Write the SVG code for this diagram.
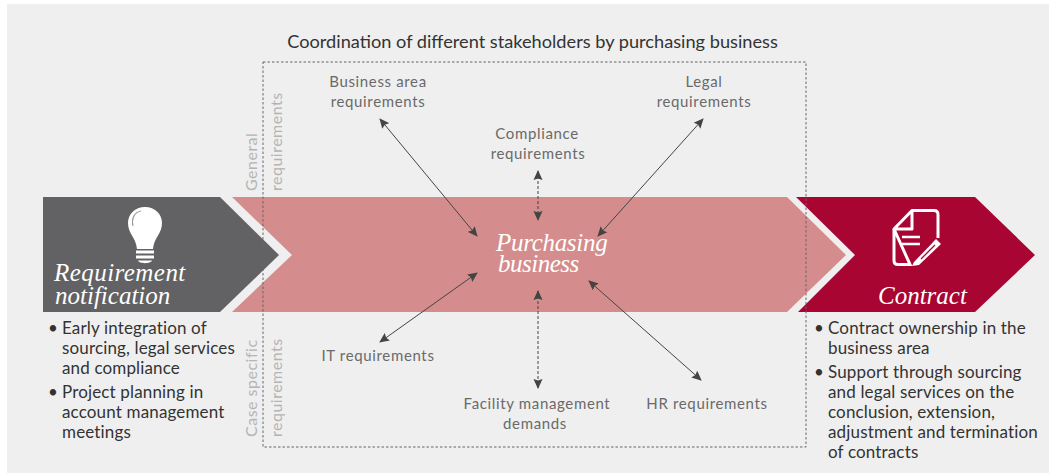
<svg xmlns="http://www.w3.org/2000/svg" width="1049" height="473" viewBox="0 0 1049 473">
<style>
.t{font-family:"Lato","Liberation Sans",sans-serif}
.lab{font-size:15px;fill:#6a6a6a;letter-spacing:.65px;text-anchor:middle}
.side{font-size:16px;fill:#b4b4b4;letter-spacing:.5px}
.body{font-size:17px;fill:#333;letter-spacing:.15px}
.it{font-family:"Liberation Serif",serif;font-style:italic;fill:#fff;font-size:25px}
.c{stroke:#444;stroke-width:1;fill:none;marker-start:url(#a);marker-end:url(#a)}
.d{stroke-dasharray:3 2}
</style>
<defs><marker id="a" viewBox="0 0 10 10" refX="9" refY="5" markerWidth="10" markerHeight="10" orient="auto-start-reverse" markerUnits="userSpaceOnUse"><path d="M0 .5L10 5L0 9.500L1.500 5Z" fill="#444"/></marker></defs>
<rect width="1049" height="473" fill="#fff"/>
<rect x="7" y="4" width="1042" height="469" fill="#efefef"/>
<g id="purchasing-band"><path d="M232 197H787L846 255L787 312H232L292 255Z" fill="#d58c8c"/></g>
<g id="requirement"><path d="M43 197H220L279 255L220 312H43Z" fill="#626264"/>
<path d="M145 207c-10 0-17 7-17 16 0 11 8 14 9 26h16c1-12 9-15 9-26 0-9-7-16-17-16ZM136 250.500h18v3h-18ZM136 255.500h18v3h-18ZM138 260.500h14c-1 3.500-13 3.500-14 0Z" fill="#fff"/>
<path d="M133 226c-2-8 2-14 8-15" fill="none" stroke="#9a9a9a" stroke-width="1.200"/>
<text class="it" x="54" y="281" style="letter-spacing:.45px">Requirement</text><text class="it" x="55" y="304">notification</text></g>
<g id="contract"><path d="M796 197H975L1035 255L975 312H798L855 255Z" fill="#a80532"/>
<path d="M912 210.500H934q4 0 4 4V238M910 264.500H898q-4 0-4-4V229Z" fill="none" stroke="#fff" stroke-width="3"/>
<path d="M912 210.500L894 229H912Z" fill="none" stroke="#fff" stroke-width="3" stroke-linejoin="round"/>
<path d="M902 237H920M902 244H920" stroke="#fff" stroke-width="2.500"/>
<path d="M914 262L936 239L941 244L919 265L912 266Z" fill="#fff"/>
<path d="M918 256L932 242M921 259L935 245" stroke="#a80532" stroke-width="1.300"/>
<text class="it" x="878" y="304">Contract</text></g>
<g id="purchasing-label"><text class="it" x="496" y="251" style="letter-spacing:-.3px">Purchasing</text><text class="it" x="498" y="272" style="letter-spacing:-.5px">business</text></g>
<g id="frame"><rect x="263" y="62" width="543" height="385" fill="none" stroke="#666" stroke-dasharray="2.500 2"/></g>
<text class="t" x="532.500" y="48" font-size="18.200" fill="#333" text-anchor="middle">Coordination of different stakeholders by purchasing business</text>
<g id="connectors">
<path class="c" d="M380 119L477 236"/><path class="c" d="M703 119L598 236"/><path class="c d" d="M538 171V220"/>
<path class="c" d="M380 342L477 273"/><path class="c d" d="M538 291V388"/><path class="c" d="M589 281L701 380"/>
</g>
<g id="n-business"><text class="t lab" x="378" y="87">Business area</text><text class="t lab" x="378" y="107">requirements</text></g>
<g id="n-legal"><text class="t lab" x="704" y="87">Legal</text><text class="t lab" x="704" y="107">requirements</text></g>
<g id="n-compliance"><text class="t lab" x="537" y="139">Compliance</text><text class="t lab" x="538" y="159">requirements</text></g>
<g id="n-it"><text class="t lab" x="378" y="361">IT requirements</text></g>
<g id="n-facility"><text class="t lab" x="537" y="409">Facility management</text><text class="t lab" x="535" y="429">demands</text></g>
<g id="n-hr"><text class="t lab" x="707" y="409">HR requirements</text></g>
<g id="side-labels">
<text class="t side" transform="translate(257 191) rotate(-90)">General</text>
<text class="t side" transform="translate(282 191) rotate(-90)">requirements</text>
<text class="t side" transform="translate(257 437) rotate(-90)">Case specific</text>
<text class="t side" transform="translate(282 437) rotate(-90)">requirements</text>
</g>
<g id="left-text" transform="translate(0 .6)">
<text class="t body" x="48" y="333">•</text><text class="t body" x="62" y="333">Early integration of</text><text class="t body" x="62" y="353">sourcing, legal services</text><text class="t body" x="62" y="373">and compliance</text>
<text class="t body" x="48" y="397">•</text><text class="t body" x="62" y="397">Project planning in</text><text class="t body" x="62" y="417">account management</text><text class="t body" x="62" y="437">meetings</text>
</g>
<g id="right-text" transform="translate(0 .6)">
<text class="t body" x="814" y="333">•</text><text class="t body" x="828" y="333">Contract ownership in the</text><text class="t body" x="828" y="353">business area</text>
<text class="t body" x="814" y="377">•</text><text class="t body" x="828" y="377">Support through sourcing</text><text class="t body" x="828" y="397">and legal services on the</text><text class="t body" x="828" y="417">conclusion, extension,</text><text class="t body" x="828" y="437">adjustment and termination</text><text class="t body" x="828" y="457">of contracts</text>
</g>
</svg>
